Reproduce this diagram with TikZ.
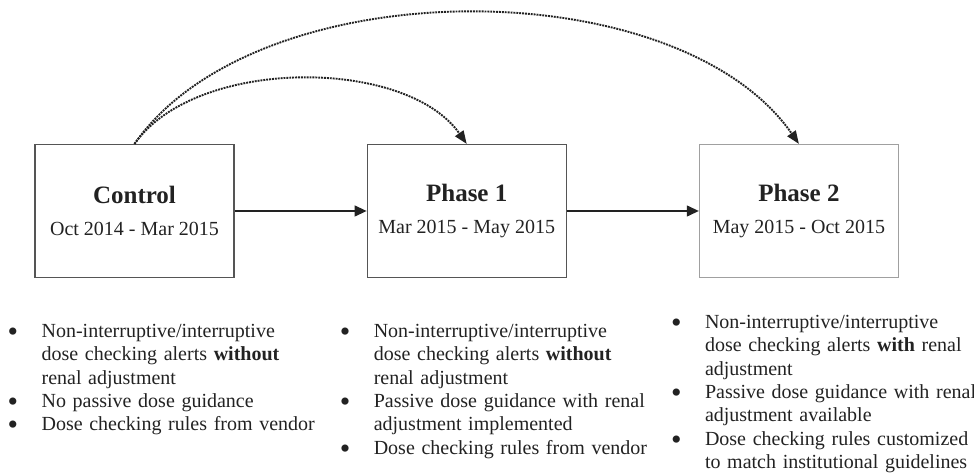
\documentclass[tikz,border=0pt]{standalone}
\usepackage{fontspec}
\setmainfont{Liberation Serif}
\usetikzlibrary{positioning, arrows.meta}
\definecolor{ink}{HTML}{222222}
\definecolor{frame}{HTML}{555555}
\definecolor{paleframe}{HTML}{a0a0a0}

\newcommand{\titlefont}{\fontsize{25bp}{28bp}\selectfont\bfseries}
\newcommand{\datefont}{\fontsize{20bp}{31.5bp}\selectfont}
\newcommand{\notefont}{\fontsize{20bp}{23.3bp}\selectfont\hyphenpenalty=10000}
\newcommand{\bul}{\par\hangindent=34bp\hangafter=1\noindent
  \makebox[34bp][l]{\raisebox{-4bp}{\scalebox{1.5}{\textbullet}}}}

\begin{document}
\begin{tikzpicture}[x=1bp, y=1bp, text=ink, node distance=132bp,
  phase/.style={draw=frame, line width=1.2bp, minimum width=199bp, minimum height=133bp,
    align=center, inner sep=0pt, font=\datefont},
  arr/.style={-{Triangle[length=12bp, width=11bp]}, line width=1.3bp, ink},
  skip/.style={-{Triangle[length=13bp, width=10bp]}, line width=1.9bp, densely dotted, ink},
  notes/.style={inner sep=0pt, text width=340bp, align=left, font=\notefont}
]
  \useasboundingbox (-134.5,211) rectangle (839.5,-264);

  % study periods
  \node[phase] (ctrl) at (0,0) {{\titlefont Control}\\Oct 2014 - Mar 2015};
  \node[phase, right=of ctrl] (p1) {{\titlefont Phase 1}\\Mar 2015 - May 2015};
  \node[phase, right=of p1, draw=paleframe] (p2) {{\titlefont Phase 2}\\May 2015 - Oct 2015};

  \draw[arr] (ctrl) -- (p1);
  \draw[arr] (p1) -- (p2);
  \draw[skip] (ctrl.north) .. controls +(61,87) and +(-61,87) .. (p1.north);
  \draw[skip] (ctrl.north) .. controls +(122,175) and +(-122,175) .. (p2.north);

  % what changed in each period
  \node[notes, below=36bp of ctrl.south west, anchor=north west, xshift=-27bp] (ctrlnotes) {%
    \bul Non-interruptive/interruptive\newline dose checking alerts \textbf{without}\newline renal adjustment
    \bul No passive dose guidance
    \bul Dose checking rules from vendor\par};
  \node[notes, below=36bp of p1.south west, anchor=north west, xshift=-27bp] (p1notes) {%
    \bul Non-interruptive/interruptive\newline dose checking alerts \textbf{without}\newline renal adjustment
    \bul Passive dose guidance with renal\newline adjustment implemented
    \bul Dose checking rules from vendor\par};
  \node[notes, below=27bp of p2.south west, anchor=north west, xshift=-28bp] (p2notes) {%
    \bul Non-interruptive/interruptive\newline dose checking alerts \textbf{with} renal\newline adjustment
    \bul Passive dose guidance with renal\newline adjustment available
    \bul Dose checking rules customized\newline to match institutional guidelines\par};
\end{tikzpicture}
\end{document}
